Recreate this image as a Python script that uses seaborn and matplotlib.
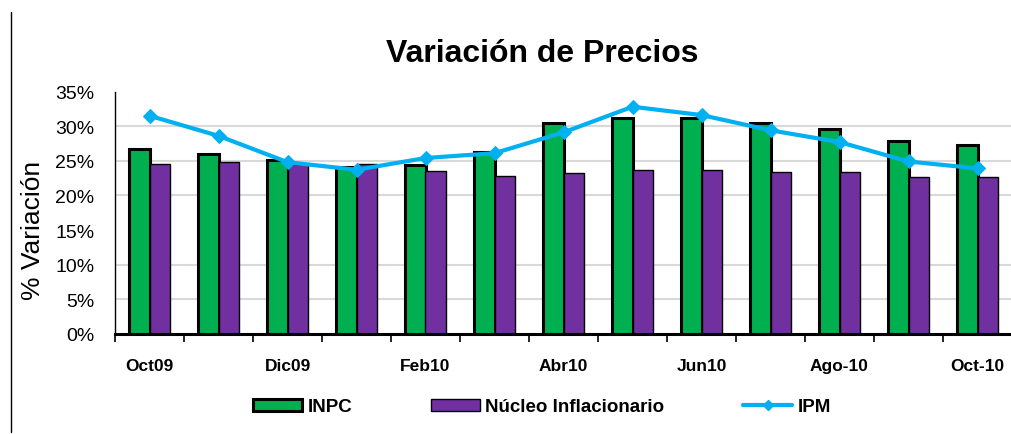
import numpy as np
import pandas as pd
import matplotlib
matplotlib.use("Agg")
import matplotlib.pyplot as plt
import seaborn as sns
from matplotlib.lines import Line2D
from matplotlib.patches import Patch

categories = ["Oct09", "Nov09", "Dic09", "Ene10", "Feb10", "Mar10", "Abr10",
              "May10", "Jun10", "Jul10", "Ago-10", "Sep-10", "Oct-10"]
tick_labels = ["Oct09", "", "Dic09", "", "Feb10", "", "Abr10",
               "", "Jun10", "", "Ago-10", "", "Oct-10"]
inpc = [26.7, 26.0, 25.1, 24.1, 24.4, 26.3, 30.5, 31.2, 31.2, 30.5, 29.6, 27.9, 27.3]
nucleo = [24.6, 24.8, 24.6, 24.6, 23.5, 22.8, 23.3, 23.7, 23.7, 23.4, 23.4, 22.7, 22.6]
ipm = [31.5, 28.6, 24.8, 23.7, 25.4, 26.1, 29.1, 32.8, 31.6, 29.4, 27.7, 24.9, 23.9]
series_names = ["INPC", "Núcleo Inflacionario", "IPM"]
y_ticks = [0, 5, 10, 15, 20, 25, 30, 35]
grid_vals = [5, 10, 20, 25, 30]

GREEN = "#00B050"
PURPLE = "#7030A0"
BLUE = "#00B0F0"

sns.set_theme(style="white")
plt.rcParams["font.family"] = ["Liberation Sans", "DejaVu Sans"]
plt.rcParams["text.color"] = "black"
plt.rcParams["axes.labelcolor"] = "black"
plt.rcParams["xtick.color"] = "black"
plt.rcParams["ytick.color"] = "black"

W, H = 1012, 435
fig = plt.figure(figsize=(W / 100, H / 100), dpi=100)
ax_left, ax_bottom_px, ax_top_px = 115, 335, 92.5
ax = fig.add_axes([ax_left / W, (H - ax_bottom_px) / H,
                   (W - ax_left) / W, (ax_bottom_px - ax_top_px) / H])

df = pd.DataFrame({
    "Mes": categories * 2,
    "Serie": [series_names[0]] * len(categories) + [series_names[1]] * len(categories),
    "Valor": inpc + nucleo,
})
sns.barplot(data=df, x="Mes", y="Valor", hue="Serie", order=categories,
            hue_order=series_names[:2], palette=[GREEN, PURPLE], width=0.58,
            gap=0, saturation=1, edgecolor="black", legend=False, ax=ax, zorder=2)
for p in ax.containers[0]:
    p.set_linewidth(2.2)
for p in ax.containers[1]:
    p.set_linewidth(1.0)

x_pos = np.arange(len(categories))
sns.lineplot(x=x_pos, y=ipm, color=BLUE, linewidth=3, marker="D", markersize=7,
             markeredgecolor=BLUE, ax=ax, zorder=3)

for g in grid_vals:
    ax.axhline(g, color="#d9d9d9", linewidth=1.5, zorder=0.5)

ax.set_ylim(0, 35)
ax.set_xlim(-0.5, -0.5 + (W - ax_left) / 69.3)
ax.set_yticks(y_ticks)
ax.set_yticklabels([f"{v}%" for v in y_ticks], fontsize=14, color="black")
ax.set_yticks([0, 5, 10, 20, 25, 30], minor=True)
ax.tick_params(axis="y", which="major", length=0, pad=15, colors="black")
ax.tick_params(axis="y", which="minor", length=5, width=1, direction="out", color="black", left=True)

ax.set_xticks(x_pos)
ax.set_xticklabels(tick_labels, fontsize=12.5, fontweight="bold", color="black")
ax.set_xticks(np.arange(-0.5, len(categories), 1.0), minor=True)
ax.tick_params(axis="x", which="major", length=0, pad=17, colors="black")
ax.tick_params(axis="x", which="minor", length=6, width=1.2, direction="out", color="black", bottom=True)

ax.set_xlabel("")
ax.set_ylabel("")
ax.grid(False)
for s in ["top", "right"]:
    ax.spines[s].set_visible(False)
ax.spines["left"].set_color("black")
ax.spines["left"].set_linewidth(1)
ax.spines["bottom"].set_color("black")
ax.spines["bottom"].set_linewidth(2.2)

fig.text(542 / W, 1 - 54 / H, "Variación de Precios", fontsize=23,
         fontweight="bold", ha="center", va="center", color="black")
fig.text(33 / W, 1 - 230 / H, "% Variación", fontsize=19, rotation=90,
         ha="center", va="center", color="black")

handles = [
    Patch(facecolor=GREEN, edgecolor="black", linewidth=2.2),
    Patch(facecolor=PURPLE, edgecolor="black", linewidth=1.0),
    Line2D([0], [0], color=BLUE, linewidth=3, marker="D", markersize=5),
]
leg = fig.legend(handles, series_names, loc="center", bbox_to_anchor=(542 / W, 1 - 408 / H),
                 ncol=3, frameon=False, prop={"size": 13.5, "weight": "bold"},
                 handlelength=2.6, handleheight=0.6, handletextpad=0.3, columnspacing=4.2)
for t in leg.get_texts():
    t.set_color("black")

fig.add_artist(Line2D([11 / W, 11 / W], [1 - 433 / H, 1 - 13 / H], color="black",
                      linewidth=1, transform=fig.transFigure))

fig.savefig("out.png", dpi=100, facecolor="white")
